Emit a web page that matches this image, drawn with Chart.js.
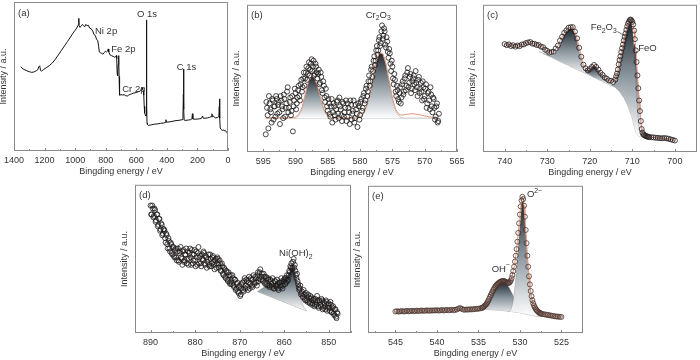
<!DOCTYPE html>
<html>
<head>
<meta charset="utf-8">
<script src="https://cdn.jsdelivr.net/npm/chart.js@4.4.1/dist/chart.umd.min.js"></script>
<style>
body{margin:0;background:#fff;}
#wrap{position:relative;width:700px;height:360px;overflow:hidden;background:#fff;}
#wrap canvas{position:absolute;}
</style>
</head>
<body>
<div id="wrap"></div>
<script>
// ---------- (a) survey ----------
const aEnergy = [1356,1340,1320,1300,1285,1270,1255,1245,1238,1232,1226,1220,1205,1190,1170,1150,1130,1110,1090,1070,1050,1030,1015,1000,990,982,978,976,974,968,960,952,945,937,930,922,915,905,895,885,876,868,860,852,846,842,835,826,818,810,802,795,788,784,780,772,762,752,742,735,731,728,725,722,719,716,714,712.5,711,708,700,690,680,670,660,650,640,630,620,610,600,590,580,572,566,562,558,554,551,548,545,541,537,535,534,533,532,531,529.5,527,520,510,500,480,460,440,420,410,406,403,380,360,340,320,300,295,292,290.5,289,287,280,260,245,236,233,230,215,195,175,166,162,150,135,120,110,105,102,95,88,80,70,60,57,55,53.5,51,45,38,30,25,18,10,4,0];
const aCounts = [56.5,55,54,53.2,52.8,53,53.8,54.5,56.5,57.2,54,53.6,54.8,55.8,57.2,59,61.5,64.5,67.5,70.5,73.5,76.5,79,81,82.5,84,85,89,84,83,84,85,84,83.5,85,84,84.5,82.5,82,80.5,78,77.5,75,74,70,66.5,66,65.5,65,66,67,66.5,67,68.5,66.5,64.5,64,63.5,63,63.2,64,62,52,50.5,58,64,63,50,39,37.5,37.8,37.6,37.8,37.2,36.8,37.5,38,38.3,38.8,39,39.2,39.6,40,40.5,41.5,42.5,41.2,40.5,37.5,30,25.5,24,23.5,24.5,45,88,70,30,18.5,17.8,17.2,17.4,17.6,18,18.2,18.6,18.8,19.2,21,19.3,19.6,20,20.4,20.6,21,21.8,38,55,28,20.8,20.5,20.8,21,21.6,25,21.5,21.3,21.5,21.8,23.5,22,22,22.2,22.6,23,25,23,23.5,22.5,22.2,22.5,23,30,35,22,15.5,14.5,13.8,14.2,13.5,13.8,12.6,12.2,11.5];

// ---------- (b) Cr 2p ----------
const bEnergy = [594.6,594.4,594.2,594.0,593.8,593.6,593.4,593.2,593.0,592.8,
592.6,592.4,592.2,592.0,591.8,591.6,591.4,591.2,591.0,590.8,
590.6,590.4,590.2,590.0,589.8,589.6,589.4,589.2,589.0,588.8,
588.6,588.4,588.2,588.0,587.8,587.6,587.4,587.2,587.0,586.8,
586.6,586.4,586.2,586.0,585.8,585.6,585.4,585.2,585.0,584.8,
584.6,584.4,584.2,584.0,583.8,583.6,583.4,583.2,583.0,582.8,
582.6,582.4,582.2,582.0,581.8,581.6,581.4,581.2,581.0,580.8,
580.6,580.4,580.2,580.0,579.8,579.6,579.4,579.2,579.0,578.8,
578.6,578.4,578.2,578.0,577.8,577.6,577.4,577.2,577.0,576.8,
576.6,576.4,576.2,576.0,575.8,575.6,575.4,575.2,575.0,574.8,
574.6,574.4,574.2,574.0,573.8,573.6,573.4,573.2,573.0,572.8,
572.6,572.4,572.2,572.0,571.8,571.6,571.4,571.2,571.0,570.8,
570.6,570.4,570.2,570.0,569.8,569.6,569.4,569.2,569.0,568.8,
568.6,568.4,568.2,568.0,567.8];
const bCounts = [12,30,16,33,27,36,22,31,38,26,
34,19,35,29,39,24,33,44,30,37,
28,14,35,40,33,42,38,46,41,50,
45,54,49,57,52,60,55,62,53,58,
50,56,47,51,40,45,34,38,28,33,
24,36,27,31,22,34,26,37,29,21,
33,27,35,24,30,19,32,26,35,23,
29,17,31,25,36,30,40,35,45,41,
52,48,58,55,65,62,72,69,78,74,
86,79,82,71,75,64,67,55,58,46,
49,38,42,34,44,37,48,41,52,45,
57,47,53,43,50,46,55,44,49,40,
47,35,44,38,46,33,41,29,39,27,
36,22,31,20,26];
// second sweep of the same region
const bEnergy2 = [594.5,594.3,594.1,593.9,593.7,593.5,593.3,593.1,592.9,592.7,
592.5,592.3,592.1,591.9,591.7,591.5,591.3,591.1,590.9,590.7,
590.5,590.3,590.1,589.9,589.7,589.5,589.3,589.1,588.9,588.7,
588.5,588.3,588.1,587.9,587.7,587.5,587.3,587.1,586.9,586.7,
586.5,586.3,586.1,585.9,585.7,585.5,585.3,585.1,584.9,584.7,
584.5,584.3,584.1,583.9,583.7,583.5,583.3,583.1,582.9,582.7,
582.5,582.3,582.1,581.9,581.7,581.5,581.3,581.1,580.9,580.7,
580.5,580.3,580.1,579.9,579.7,579.5,579.3,579.1,578.9,578.7,
578.5,578.3,578.1,577.9,577.7,577.5,577.3,577.1,576.9,576.7,
576.5,576.3,576.1,575.9,575.7,575.5,575.3,575.1,574.9,574.7,
574.5,574.3,574.1,573.9,573.7,573.5,573.3,573.1,572.9,572.7,
572.5,572.3,572.1,571.9,571.7,571.5,571.3,571.1,570.9,570.7,
570.5,570.3,570.1,569.9,569.7,569.5,569.3,569.1,568.9,568.7,
568.5,568.3,568.1,567.9];
const bCounts2 = [34,25,38,29,20,35,31,24,36,32,
27,38,31,23,36,30,41,27,34,25,
38,31,43,29,37,45,35,49,44,54,
50,58,53,61,56,63,58,52,60,54,
53,46,54,42,48,37,43,31,36,26,
31,20,33,25,29,35,23,31,25,34,
24,30,21,33,27,35,22,28,20,32,
26,33,22,34,28,38,33,43,38,48,
45,56,51,62,59,69,66,76,72,82,
77,84,73,78,68,70,60,62,50,53,
41,45,36,40,33,46,39,50,42,54,
44,51,40,48,52,42,47,38,51,43,
41,48,36,43,30,40,35,44,31,37,
30,24,33,21];
const bFitEnergy = [594.6,590.5,590,589.5,589,588.5,588,587.5,587,586.5,586,585.5,585,584.5,581,580.5,580,579.5,579,578.5,578,577.5,577,576.5,576,575.5,575,574.5,574,573.5,573,572,571,570,569,568.2];
const bFitCounts = [23,23.2,23.8,25.5,30,39,47.5,51.5,50,43.5,35,28,24.5,23.3,23,23.3,24,26,31,39.5,50,61,67.5,67,60,48.5,37,29,25.5,25,25.5,26,25.5,24.5,23.6,23.2];
const bPeak1Energy = [590,589.5,589,588.5,588,587.5,587,586.5,586,585.5,585,584.5];
const bPeak1Counts = [23,25,29.5,38.5,47,51,49.5,43,34.5,27.5,24,23.1];
const bPeak2Energy = [580.5,580,579.5,579,578.5,578,577.5,577,576.5,576,575.5,575,574.5,574,573.5];
const bPeak2Counts = [23,23.6,25.5,30.5,39,49.5,60.5,67,66.5,59.5,48,36.5,28.5,24.5,23.2];
const bBaseEnergy = [594.6,568.2];
const bBaseCounts = [23,23];

// ---------- (c) Fe 2p ----------
const cEnergy = [740,739.5,739,738.5,738,737.5,737,736.5,736,735.5,
735,734.5,734,733.5,733,732.5,732,731.5,731,730.5,
730,729.5,729,728.5,728,727.5,727,726.5,726,725.5,
725,724.5,724,723.5,723,722.5,722,721.5,721,720.5,
720,719.5,719,718.5,718,717.5,717,716.5,716,715.5,
715,714.5,
714,713.8,713.6,713.4,713.2,713,712.8,712.6,712.4,712.2,
712,711.8,711.6,711.4,711.2,711,710.8,710.6,710.4,710.2,
710,709.8,709.6,709.4,709.2,709,708.8,708.6,708.4,708.2,
708,707.8,707.6,707.4,707.2,707,706.8,706.6,706.4,706.2,
706,
705.5,705,704.5,704,703.5,703,702.5,702,701.5,701,700.5,700];
const cCounts = [73.3,72.6,73.1,72.0,72.5,71.6,72.3,71.9,73.0,73.1,
74.0,74.4,74.7,73.6,73.5,72.7,72.7,71.6,71.2,69.5,
68.7,67.6,67.9,68.2,70.3,72.3,75.7,78.3,81.0,82.6,
84.4,84.8,84.8,81.8,77.2,70.8,64.7,59.3,56.9,55.4,
56.4,57.8,59.1,57.8,56.0,53.8,52.4,50.6,49.8,48.6,
48.4,47.6,
49.2,51.5,53.3,56.0,59.5,62.5,65.0,67.8,70.5,73.0,
75.8,78.2,80.5,83.0,85.4,87.2,88.6,89.6,90.0,89.4,
88.4,86.7,82.5,76.7,69.0,61.1,52.0,43.3,35.0,27.8,
21.0,15.6,13.2,12.0,11.5,11.1,10.8,10.6,10.4,10.3,
10.1,
10.0,9.9,9.7,9.6,9.4,9.3,9.5,9.3,9.0,8.6,8.2,7.8];
const cBaseEnergy = [732,729,727,725,723,721,719,717,715,714,713,712,711,710,709.5,709,708.5,708,707,705,703,700.2];
const cBaseCounts = [68.3,64.3,61.5,58.8,56.1,53.4,50.7,47.9,45.2,43.9,41,37,31,23,17,12.5,10.8,10.3,10,9.7,9.3,7.9];
const cPeak1Energy = [731,730,729,728,727.5,727,726.5,726,725.5,725,724.5,724,723.5,723,722.5,722,721.5,721,720.5,720,719];
const cPeak1Counts = [67,66,65.5,67,69.5,73,76.5,79.5,81.5,83,83.8,83,80,75,68.5,62.5,57.5,55,53.5,52.5,50.8];
const cSatEnergy = [722.5,722,721.5,721,720.5,720,719.5,719,718.5,718,717.5,717,716,715];
const cSatCounts = [55.5,55.5,55.6,55.9,55.5,56,57.5,58.5,57.5,55.5,53.5,51.5,48.5,45.3];
const cFe2O3Energy = [715,714.5,714,713.5,713,712.5,712,711.5,711,710.5,710,709.5,709,708.5,708];
const cFe2O3Counts = [45.4,45.8,47.5,52,59,66.5,73.5,80,85,87.5,84,65,38,18,10.5];
const cFeOEnergy = [712.5,712,711.5,711,710.5,710,709.5,709,708.5,708,707.5,707];
const cFeOCounts = [39.3,38,40,45,55,67,73.5,59,41,21.5,13,10.1];

// ---------- (d) Ni 2p ----------
const dEnergy = [890,889.75,889.5,889.25,889,888.75,888.5,888.25,888,887.75,887.5,887.25,
887,886.75,886.5,886.25,886,885.75,885.5,885.25,885,884.75,884.5,884.25,
884,883.75,883.5,883.25,883,882.75,882.5,882.25,882,881.75,881.5,881.25,
881,880.75,880.5,880.25,880,879.75,879.5,879.25,879,878.75,878.5,878.25,
878,877.75,877.5,877.25,877,876.75,876.5,876.25,876,875.75,875.5,875.25,
875,874.75,874.5,874.25,874,873.75,873.5,873.25,873,872.75,872.5,872.25,
872,871.75,871.5,871.25,871,870.75,870.5,870.25,870,869.75,869.5,869.25,
869,868.75,868.5,868.25,868,867.75,867.5,867.25,867,866.75,866.5,866.25,
866,865.75,865.5,865.25,865,864.75,864.5,864.25,864,863.75,863.5,863.25,
863,862.75,862.5,862.25,862,861.75,861.5,861.25,861,860.75,860.5,860.25,
860,859.75,859.5,859.25,859,858.75,858.5,858.25,858,857.75,857.5,857.25,
857,856.75,856.5,856.25,856,855.75,855.5,855.25,855,854.75,854.5,854.25,
854,853.75,853.5,853.25,853,852.75,852.5,852.25,852,851.75,851.5,851.25,
851,850.75,850.5,850.25,850,849.75,849.5,849.25,849,848.75,848.5,848.25,848];
const dCounts = [86,80,84,79,83,76,80,73,77,70,73,67,
70,64,67,60,64,57,61,54,58,52,56,51,
55,49,54,58,50,55,48,53,57,50,46,54,
51,56,47,53,49,55,46,58,51,47,53,49,
54,46,51,48,53,45,50,47,52,46,49,44,
51,46,49,42,47,40,44,38,42,36,41,34,
39,33,37,31,36,30,34,27,32,26,33,29,
35,30,36,31,34,30,37,32,36,33,38,34,
39,35,41,36,40,35,38,33,37,32,36,31,
35,31,34,30,35,31,33,29,34,31,35,32,
36,33,37,35,39,41,44,43,48,44,42,37,
35,31,30,26,28,24,26,22,25,21,24,20,
23,19,22,18,23,19,22,17,21,18,22,17,
20,16,21,17,20,15,19,14,18,12,16,10,13];
// second sweep, interleaved
const dEnergy2 = [889.875,889.625,889.375,889.125,888.875,888.625,888.375,888.125,887.875,887.625,887.375,887.125,
886.875,886.625,886.375,886.125,885.875,885.625,885.375,885.125,884.875,884.625,884.375,884.125,
883.875,883.625,883.375,883.125,882.875,882.625,882.375,882.125,881.875,881.625,881.375,881.125,
880.875,880.625,880.375,880.125,879.875,879.625,879.375,879.125,878.875,878.625,878.375,878.125,
877.875,877.625,877.375,877.125,876.875,876.625,876.375,876.125,875.875,875.625,875.375,875.125,
874.875,874.625,874.375,874.125,873.875,873.625,873.375,873.125,872.875,872.625,872.375,872.125,
871.875,871.625,871.375,871.125,870.875,870.625,870.375,870.125,869.875,869.625,869.375,869.125,
868.875,868.625,868.375,868.125,867.875,867.625,867.375,867.125,866.875,866.625,866.375,866.125,
865.875,865.625,865.375,865.125,864.875,864.625,864.375,864.125,863.875,863.625,863.375,863.125,
862.875,862.625,862.375,862.125,861.875,861.625,861.375,861.125,860.875,860.625,860.375,860.125,
859.875,859.625,859.375,859.125,858.875,858.625,858.375,858.125,857.875,857.625,857.375,857.125,
856.875,856.625,856.375,856.125,855.875,855.625,855.375,855.125,854.875,854.625,854.375,854.125,
853.875,853.625,853.375,853.125,852.875,852.625,852.375,852.125,851.875,851.625,851.375,851.125,
850.875,850.625,850.375,850.125,849.875,849.625,849.375,849.125,848.875,848.625,848.375,848.125];
const dCounts2 = [80,86,78,84,75,80,72,77,69,74,66,70,
69,61,66,57,62,55,60,53,58,51,57,49,
57,48,55,51,46,56,49,53,47,55,50,57,
46,53,49,56,45,51,54,47,52,45,50,55,
47,52,44,50,46,53,45,51,48,43,50,47,
50,44,47,42,45,39,43,37,41,35,39,33,
35,39,32,36,29,33,28,31,25,30,34,28,
37,32,35,29,38,33,36,31,39,34,37,32,
41,37,43,38,36,40,34,38,33,37,32,36,
33,37,30,35,32,36,30,34,32,37,30,35,
37,34,39,36,42,45,47,44,50,46,39,40,
33,29,32,27,25,29,23,27,22,26,21,25,
24,20,23,19,21,25,18,22,19,23,16,21,
18,22,15,19,17,21,14,17,13,16,11,14];
const dPeakEnergy = [866,865,864,863,862,861,860,859.5,859,858.5,858,857.5,857,856.5,856,855.5,855];
const dPeakCounts = [28,30,31.5,33,34,35,36.5,38,40,43,44,40,33,26,20.5,17,15];
const dBaseEnergy = [866,855];
const dBaseCounts = [28,15];

// ---------- (e) O 1s ----------
const eEnergy = [545,544.8,544.6,544.4,544.2,544,543.8,543.6,543.4,543.2,
543,542.8,542.6,542.4,542.2,542,541.8,541.6,541.4,541.2,
541,540.8,540.6,540.4,540.2,540,539.8,539.6,539.4,539.2,
539,538.8,538.6,538.4,538.2,538,537.8,537.6,537.4,537.2,
537,536.8,536.6,536.4,536.2,536,535.8,535.6,535.4,535.2,
535,534.8,534.6,
534.5,534.4,534.3,534.2,534.1,534,533.9,533.8,533.7,533.6,
533.5,533.4,533.3,533.2,533.1,533,532.9,532.8,532.7,532.6,
532.5,532.4,532.3,532.2,532.1,532,531.9,531.8,531.7,531.6,
531.5,531.4,531.3,531.2,531.1,531,530.9,530.8,530.7,530.6,
530.5,530.4,530.3,530.2,530.1,530,529.9,529.8,529.7,529.6,
529.5,529.4,529.3,529.2,529.1,529,528.9,528.8,528.7,528.6,
528.5,528.4,528.3,528.2,528.1,528,527.9,527.8,527.7,527.6,
527.5,
527.4,527.2,527,526.8,526.6,526.4,526.2,526,525.8,525.6,525.4,525.2,525];
const eCounts = [14.6,14.8,14.5,14.7,14.9,14.6,14.8,15.0,14.7,14.9,
15.1,14.8,15.0,15.2,14.9,15.1,15.3,15.0,15.2,15.4,
15.1,15.3,15.2,15.4,15.3,15.5,15.2,15.4,15.6,15.3,
15.5,15.7,15.4,15.6,15.8,15.5,15.7,16.0,16.6,16.9,
16.4,15.9,15.8,16.0,15.9,16.1,16.0,16.2,16.3,16.4,
16.5,16.7,17.0,
17.2,17.6,18.1,18.7,19.3,20,21,22.1,23.3,24.6,
25.8,27,28.2,29.3,30.3,31.2,32,32.7,33.3,33.8,
34.2,34.6,34.9,35.1,35.3,35.3,35.2,35,34.7,34.4,
34.1,34,34.1,34.6,35.6,37.2,39.4,42,45,48.5,
52.5,57,62,68,74.5,80.5,86,90,92.5,91,
86.5,79,70,61,52.5,45,38.5,33,28.5,25,
22.3,20.2,18.6,17.4,16.4,15.6,15,14.4,14,13.6,
13.3,
13.1,12.8,12.6,12.4,12.2,12,11.8,11.6,11.4,11.2,11.1,11,10.9];
const eBaseEnergy = [535,534,533,532,531,530,529.5,529,528.5,528,527.5,527,526];
const eBaseCounts = [16.3,16.0,15.7,15.2,14.6,13.8,13.2,12.5,11.9,11.5,11.3,11.2,11.0];
const eOHEnergy = [535,534.5,534,533.5,533,532.5,532,531.5,531,530.5,530,529.5,529,528.5,528];
const eOHCounts = [16.3,16.9,19.5,24.5,30,33.5,34.5,32.5,27.5,21.5,17,14.5,13.2,12.2,11.6];
const eO2Energy = [531.5,531.2,531,530.8,530.6,530.4,530.2,530,529.8,529.7,529.6,529.5,529.3,529.1,528.9,528.7,528.5,528.3,528.1,527.9,527.7];
const eO2Counts = [14.4,15,17.5,22.5,31.5,43.5,58,72.5,85,89,89,85,69,51.5,37.5,27,20.5,16,13.5,12.2,11.5];

// ---------- drawing ----------
const FONT = "'Liberation Sans', Arial, sans-serif";
Chart.defaults.font.family = FONT;
Chart.defaults.color = '#333';
const wrap = document.getElementById('wrap');

const DOT = '#1f1a1a';
const FIT = '#e3997c';

function pts(xs, ys) {
    return xs.map((x, i) => ({x: x, y: ys[i]}));
}

// dark-at-top gradient for the fitted components
function shade(ctx) {
    const chart = ctx.chart;
    if (!chart.chartArea) return 'rgba(0,0,0,0)';
    const ys = ctx.dataset.data.map(p => p.y);
    const top = chart.scales.y.getPixelForValue(Math.max(...ys));
    const bot = chart.scales.y.getPixelForValue(Math.min(...ys));
    const g = chart.ctx.createLinearGradient(0, top, 0, bot + 0.5);
    g.addColorStop(0, '#22282f');
    g.addColorStop(0.45, '#87939b');
    g.addColorStop(1, 'rgba(255,255,255,0.95)');
    return g;
}

function dots(xs, ys, edge, line) {
    return {data: pts(xs, ys), showLine: !!line, borderColor: line || 'rgba(0,0,0,0)', borderWidth: 1,
        pointRadius: 2.5, pointBorderWidth: 0.8, pointBorderColor: edge,
        pointBackgroundColor: 'rgba(255,255,255,0)', fill: false};
}
function curve(xs, ys, color, width) {
    return {data: pts(xs, ys), showLine: true, borderColor: color, borderWidth: width || 1,
        pointRadius: 0, fill: false};
}
function peak(xs, ys, target) {
    return {data: pts(xs, ys), showLine: true, borderColor: 'rgba(110,115,120,0.55)', borderWidth: 0.6,
        pointRadius: 0, fill: {target: target}, backgroundColor: shade, cubicInterpolationMode: 'monotone'};
}

function drawRich(ctx, x, y, parts, align, size) {
    const widths = parts.map(p => {
        ctx.font = (p[1] ? size * 0.72 : size) + 'px ' + FONT;
        return ctx.measureText(p[0]).width;
    });
    const total = widths.reduce((a, b) => a + b, 0);
    let cx = align === 'center' ? x - total / 2 : x;
    parts.forEach((p, i) => {
        ctx.font = (p[1] ? size * 0.72 : size) + 'px ' + FONT;
        const dy = p[1] === 'sub' ? size * 0.35 : (p[1] === 'sup' ? -size * 0.4 : 0);
        ctx.fillText(p[0], cx, y + dy);
        cx += widths[i];
    });
}

const framePlugin = {
    id: 'frame',
    afterDatasetsDraw(chart, args, opts) {
        const {ctx, chartArea: a, scales} = chart;
        const xs = scales.x;
        ctx.save();
        ctx.strokeStyle = '#8a8a8a';
        ctx.lineWidth = 1;
        ctx.strokeRect(a.left + 0.5, a.top + 0.5, a.right - a.left - 1, a.bottom - a.top - 1);
        // inward ticks, major and minor
        const vals = xs.ticks.map(t => t.value);
        const step = vals.length > 1 ? Math.abs(vals[1] - vals[0]) : 0;
        const marks = [];
        vals.forEach(v => marks.push([v, 3]));
        vals.forEach(v => { marks.push([v + step / 2, 2]); marks.push([v - step / 2, 2]); });
        ctx.beginPath();
        marks.forEach(m => {
            if (m[0] < xs.min || m[0] > xs.max) return;
            const px = Math.round(xs.getPixelForValue(m[0])) + 0.5;
            ctx.moveTo(px, a.bottom);
            ctx.lineTo(px, a.bottom - m[1]);
        });
        ctx.stroke();
        ctx.restore();
    },
    afterDraw(chart, args, opts) {
        const {ctx, chartArea: a, scales} = chart;
        ctx.save();
        ctx.fillStyle = '#333';
        ctx.textBaseline = 'middle';
        ctx.textAlign = 'left';
        ctx.font = '9.5px ' + FONT;
        ctx.fillText(opts.letter, a.left + 4, a.top + 11);
        (opts.notes || []).forEach(n => {
            drawRich(ctx, scales.x.getPixelForValue(n.x), scales.y.getPixelForValue(n.y), n.parts, n.align, 9.5);
        });
        ctx.strokeStyle = '#444';
        ctx.lineWidth = 0.8;
        (opts.pointers || []).forEach(l => {
            ctx.beginPath();
            ctx.moveTo(scales.x.getPixelForValue(l[0]), scales.y.getPixelForValue(l[1]));
            ctx.lineTo(scales.x.getPixelForValue(l[2]), scales.y.getPixelForValue(l[3]));
            ctx.stroke();
        });
        ctx.restore();
    }
};

function makePanel(p) {
    const [l, t, w, h] = p.box;
    const cw = w + 32, ch = h + 28;
    const cv = document.createElement('canvas');
    cv.width = cw; cv.height = ch;
    cv.style.left = (l - 16) + 'px';
    cv.style.top = (t - 2) + 'px';
    cv.style.width = cw + 'px';
    cv.style.height = ch + 'px';
    wrap.appendChild(cv);
    new Chart(cv, {
        type: 'line',
        data: {datasets: p.datasets},
        options: {
            responsive: false,
            animation: false,
            devicePixelRatio: 1,
            events: [],
            layout: {padding: {left: 0, top: 2, right: 16, bottom: 0}},
            scales: {
                x: {
                    type: 'linear', reverse: true, min: p.xMin, max: p.xMax,
                    grid: {display: false, drawTicks: false}, border: {display: false},
                    ticks: {stepSize: p.step, includeBounds: false, padding: 4, color: '#333',
                        font: {size: 9}, maxRotation: 0, autoSkip: false,
                        callback: v => String(v)},
                    title: {display: true, text: 'Bingding energy / eV', color: '#333',
                        font: {size: 9}, padding: 0},
                    afterFit: s => { s.height = 26; }
                },
                y: {
                    min: 0, max: 100,
                    grid: {display: false, drawTicks: false}, border: {display: false},
                    ticks: {display: false},
                    title: {display: true, text: 'Intensity / a.u.', color: '#333',
                        font: {size: 9}, padding: 0},
                    afterFit: s => { s.width = 16; }
                }
            },
            plugins: {
                legend: {display: false},
                tooltip: {enabled: false},
                frame: {letter: p.letter, notes: p.notes, pointers: p.pointers}
            }
        },
        plugins: [framePlugin]
    });
}

// (a)
makePanel({
    box: [14, 2, 214, 149], xMin: 0, xMax: 1400, step: 200, letter: '(a)',
    datasets: [curve(aEnergy, aCounts, '#111', 1)],
    notes: [
        {x: 870, y: 80.2, parts: [['Ni 2p']]},
        {x: 764, y: 68, parts: [['Fe 2p']]},
        {x: 595, y: 91.9, parts: [['O 1s']]},
        {x: 336, y: 55.9, parts: [['C 1s']]},
        {x: 692, y: 41.5, parts: [['Cr 2p']]}
    ]
});

// (b)
makePanel({
    box: [247, 2, 210, 150], xMin: 565, xMax: 597.5, step: 5, letter: '(b)',
    datasets: [
        dots(bEnergy, bCounts, DOT),
        dots(bEnergy2, bCounts2, DOT),
        curve(bFitEnergy, bFitCounts, FIT, 1),
        peak(bPeak1Energy, bPeak1Counts, 5),
        peak(bPeak2Energy, bPeak2Counts, 5),
        curve(bBaseEnergy, bBaseCounts, '#c4c4c4', 1)
    ],
    notes: [{x: 577.2, y: 93, parts: [['Cr'], ['2', 'sub'], ['O'], ['3', 'sub']], align: 'center'}]
});

// (c)
makePanel({
    box: [483, 2, 214, 150], xMin: 694.8, xMax: 745.1, step: 10, letter: '(c)',
    datasets: [
        dots(cEnergy, cCounts, '#2a2020', FIT),
        peak(cFe2O3Energy, cFe2O3Counts, 5),
        peak(cFeOEnergy, cFeOCounts, 5),
        peak(cPeak1Energy, cPeak1Counts, 5),
        peak(cSatEnergy, cSatCounts, 5),
        curve(cBaseEnergy, cBaseCounts, '#b0b0b0', 0.8)
    ],
    notes: [
        {x: 719.8, y: 84.7, parts: [['Fe'], ['2', 'sub'], ['O'], ['3', 'sub']]},
        {x: 708.6, y: 70.7, parts: [['FeO']]}
    ],
    pointers: [[713.5, 81.8, 712.1, 79.5], [709.0, 68.5, 709.4, 63.5]]
});

// (d)
makePanel({
    box: [135, 182, 216, 151], xMin: 845, xMax: 893.5, step: 10, letter: '(d)',
    datasets: [
        dots(dEnergy, dCounts, DOT),
        dots(dEnergy2, dCounts2, DOT),
        peak(dPeakEnergy, dPeakCounts, 3),
        curve(dBaseEnergy, dBaseCounts, '#9a9a9a', 0.8)
    ],
    notes: [{x: 857.4, y: 53.6, parts: [['Ni(OH)'], ['2', 'sub']], align: 'center'}]
});

// (e)
makePanel({
    box: [368, 183, 215, 150], xMin: 522.4, xMax: 548.3, step: 5, letter: '(e)',
    datasets: [
        dots(eEnergy, eCounts, '#4e3630', FIT),
        peak(eO2Energy, eO2Counts, 3),
        peak(eOHEnergy, eOHCounts, 3),
        curve(eBaseEnergy, eBaseCounts, '#a8a8a8', 0.8)
    ],
    notes: [
        {x: 529.15, y: 94, parts: [['O'], ['2\u2212', 'sup']]},
        {x: 532.3, y: 43.5, parts: [['OH'], ['\u2212', 'sup']], align: 'center'}
    ]
});
</script>
</body>
</html>
